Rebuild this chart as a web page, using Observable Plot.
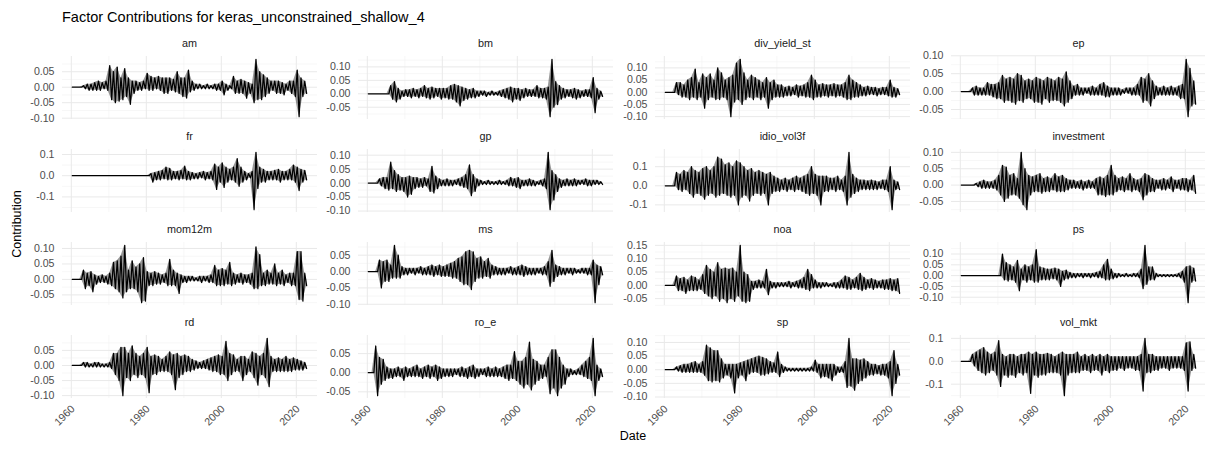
<!DOCTYPE html>
<html><head><meta charset="utf-8">
<script src="https://cdn.jsdelivr.net/npm/d3@7"></script>
<script src="https://cdn.jsdelivr.net/npm/@observablehq/plot@0.6"></script>
<style>
body{margin:0;background:#fff;}
#chart{position:relative;width:1205px;height:450px;font-family:"Liberation Sans",Arial,sans-serif;overflow:hidden;background:#fff;}
.panel{position:absolute;}
.panel svg{overflow:visible;display:block;}
#overlay{position:absolute;left:0;top:0;pointer-events:none;}
</style></head><body><div id="chart"></div>
<script>
// ---- Data (yearly upper / lower extremes), years 1960..2022 ----
const years = d3.range(1960, 2023);
const xTicks = [1960, 1980, 2000, 2020];
const xMinorTicks = [1970, 1990, 2010];
const factorNames = ["am","bm","div_yield_st","ep","fr","gp","idio_vol3f","investment","mom12m","ms","noa","ps","rd","ro_e","sp","vol_mkt"];

const am_hi = [0,0,0,.005,.01,.01,.015,.02,.015,.02,
 .07,.05,.065,.03,.06,.03,.02,.02,.015,.02,
 .045,.035,.03,.035,.03,.03,.03,.025,.05,.03,
 .03,.055,.02,.01,.01,.005,.01,.005,.01,.01,
 .02,.01,.005,.035,.02,.025,.02,.015,.01,.09,
 .05,.04,.03,.02,.02,.02,.015,.01,.02,.02,
 .055,.03,.02];
const am_lo = [0,0,0,-.005,-.01,-.01,-.01,-.01,-.005,-.01,
 -.04,-.05,-.045,-.04,-.03,-.055,-.02,-.01,-.01,-.005,
 -.01,-.01,-.005,-.01,-.02,-.02,-.01,-.015,-.02,-.03,
 -.035,-.015,-.01,-.005,-.005,-.005,-.005,-.005,-.01,-.01,
 -.025,-.01,-.005,-.02,-.02,-.02,-.035,-.02,-.05,-.04,
 -.04,-.03,-.02,-.01,-.02,-.02,-.025,-.01,-.02,-.03,
 -.095,-.03,-.02];
const bm_hi = [0,0,0,0,0,0,.03,.045,.02,.01,
 .015,.015,.02,.015,.02,.03,.02,.025,.02,.02,
 .02,.02,.03,.035,.03,.025,.02,.015,.02,.01,
 .01,.01,.005,.01,.005,.01,.015,.02,.025,.02,
 .02,.015,.02,.015,.015,.03,.02,.02,.025,.128,
 .045,.03,.02,.015,.015,.02,.015,.01,.015,.015,
 .06,.02,.01];
const bm_lo = [0,0,0,0,0,0,-.02,-.03,-.02,-.01,
 -.01,-.015,-.01,-.015,-.01,-.015,-.02,-.015,-.01,-.02,
 -.015,-.02,-.02,-.03,-.045,-.025,-.02,-.015,-.015,-.01,
 -.005,-.01,-.005,-.005,-.005,-.01,-.015,-.02,-.03,-.02,
 -.025,-.015,-.01,-.01,-.01,-.015,-.015,-.02,-.085,-.05,
 -.04,-.02,-.015,-.01,-.015,-.02,-.015,-.01,-.01,-.015,
 -.07,-.02,-.01];
const div_yield_st_hi = [0,0,0,.04,.04,.03,.05,.06,.095,.04,
 .075,.06,.075,.05,.1,.08,.05,.06,.07,.12,
 .135,.08,.05,.07,.06,.05,.04,.06,.04,.05,
 .03,.03,.02,.025,.02,.03,.025,.03,.04,.07,
 .05,.03,.035,.03,.03,.035,.03,.03,.04,.07,
 .05,.04,.03,.02,.025,.02,.02,.015,.02,.02,
 .05,.02,.015];
const div_yield_st_lo = [0,0,0,-.01,-.02,-.02,-.03,-.02,-.03,-.02,
 -.065,-.03,-.02,-.03,-.03,-.02,-.03,-.1,-.04,-.03,
 -.05,-.03,-.02,-.03,-.02,-.03,-.02,-.065,-.03,-.02,
 -.02,-.02,-.015,-.015,-.01,-.02,-.015,-.02,-.02,-.03,
 -.02,-.02,-.015,-.02,-.015,-.02,-.015,-.02,-.03,-.03,
 -.02,-.02,-.015,-.015,-.01,-.01,-.015,-.01,-.01,-.015,
 -.02,-.02,-.01];
const ep_hi = [0,0,0,.01,.015,.01,.01,.025,.02,.02,
 .025,.045,.035,.04,.035,.05,.045,.03,.035,.03,
 .04,.035,.03,.04,.035,.03,.04,.035,.055,.03,
 .015,.02,.01,.01,.01,.015,.01,.02,.025,.015,
 .01,.01,.01,.005,.01,.01,.01,.02,.04,.035,
 .05,.03,.015,.01,.015,.01,.015,.01,.015,.02,
 .09,.065,.03];
const ep_lo = [0,0,0,-.01,-.01,-.01,-.01,-.01,-.015,-.02,
 -.02,-.03,-.025,-.03,-.035,-.025,-.03,-.02,-.02,-.03,
 -.03,-.035,-.02,-.03,-.025,-.025,-.03,-.04,-.03,-.02,
 -.01,-.01,-.01,-.005,-.01,-.01,-.01,-.01,-.015,-.015,
 -.01,-.01,-.01,-.005,-.005,-.01,-.01,-.01,-.03,-.025,
 -.04,-.02,-.01,-.01,-.01,-.01,-.01,-.01,-.02,-.02,
 -.07,-.04,-.035];
const fr_hi = [0,0,0,0,0,0,0,0,0,0,
 0,0,0,0,0,0,0,0,0,0,
 0,.01,.015,.02,.025,.04,.035,.02,.02,.025,
 .045,.02,.015,.01,.015,.02,.015,.02,.055,.04,
 .06,.04,.03,.04,.08,.04,.02,.01,.02,.11,
 .04,.03,.02,.02,.025,.03,.02,.02,.03,.05,
 .04,.03,.025];
const fr_lo = [0,0,0,0,0,0,0,0,0,0,
 0,0,0,0,0,0,0,0,0,0,
 0,-.03,-.02,-.02,-.015,-.02,-.02,-.015,-.02,-.015,
 -.02,-.02,-.015,-.015,-.01,-.02,-.015,-.02,-.065,-.03,
 -.055,-.03,-.02,-.03,-.05,-.03,-.02,-.01,-.16,-.06,
 -.03,-.03,-.02,-.02,-.02,-.03,-.02,-.02,-.02,-.03,
 -.07,-.03,-.02];
const gp_hi = [0,0,0,.015,.02,.02,.075,.045,.03,.02,
 .02,.025,.02,.02,.015,.02,.015,.06,.025,.015,
 .01,.015,.01,.01,.015,.02,.03,.065,.03,.015,
 .01,.005,.01,.005,.005,.01,.005,.01,.02,.015,
 .02,.01,.01,.015,.01,.005,.01,.015,.11,.045,
 .03,.015,.01,.015,.01,.015,.01,.01,.015,.01,
 .01,.01,.005];
const gp_lo = [0,0,0,-.01,-.02,-.025,-.02,-.03,-.025,-.03,
 -.05,-.04,-.02,-.015,-.015,-.01,-.03,-.035,-.02,-.01,
 -.01,-.01,-.01,-.005,-.01,-.015,-.02,-.045,-.03,-.01,
 -.005,-.005,-.005,-.005,-.005,-.005,-.005,-.01,-.01,-.015,
 -.02,-.01,-.01,-.01,-.01,-.005,-.01,-.02,-.095,-.06,
 -.03,-.015,-.01,-.01,-.01,-.01,-.005,-.005,-.01,-.01,
 -.005,-.005,-.005];
const idio_vol3f_hi = [0,0,0,.07,.06,.08,.07,.1,.08,.07,
 .09,.1,.08,.1,.15,.14,.11,.12,.1,.13,
 .12,.1,.08,.09,.07,.08,.07,.06,.07,.05,
 .04,.03,.04,.03,.04,.05,.04,.05,.06,.1,
 .06,.05,.05,.05,.04,.04,.05,.03,.05,.175,
 .06,.04,.03,.03,.025,.03,.025,.02,.03,.03,
 .1,.03,.02];
const idio_vol3f_lo = [0,0,0,-.02,-.03,-.02,-.04,-.06,-.04,-.05,
 -.07,-.05,-.04,-.06,-.05,-.04,-.05,-.06,-.05,-.1,
 -.06,-.05,-.08,-.05,-.04,-.05,-.04,-.1,-.04,-.03,
 -.03,-.02,-.03,-.02,-.03,-.02,-.03,-.04,-.05,-.04,
 -.05,-.1,-.03,-.03,-.02,-.03,-.02,-.03,-.1,-.06,
 -.04,-.03,-.02,-.02,-.02,-.02,-.02,-.015,-.02,-.03,
 -.125,-.02,-.02];
const investment_hi = [0,0,0,0,.005,.01,.015,.01,.01,.015,
 .03,.06,.055,.03,.035,.02,.1,.05,.03,.025,
 .03,.035,.02,.025,.02,.035,.025,.03,.02,.015,
 .015,.01,.015,.01,.015,.01,.02,.025,.02,.03,
 .06,.03,.02,.025,.02,.035,.02,.015,.02,.035,
 .03,.02,.015,.015,.02,.015,.025,.015,.015,.02,
 .02,.015,.03];
const investment_lo = [0,0,0,0,-.005,-.01,-.01,-.01,-.01,-.015,
 -.03,-.05,-.04,-.03,-.03,-.04,-.06,-.075,-.03,-.02,
 -.02,-.025,-.02,-.02,-.015,-.02,-.02,-.02,-.015,-.01,
 -.01,-.01,-.015,-.01,-.01,-.01,-.03,-.03,-.035,-.03,
 -.03,-.02,-.015,-.02,-.015,-.02,-.015,-.02,-.045,-.03,
 -.02,-.02,-.01,-.015,-.015,-.01,-.02,-.01,-.015,-.015,
 -.02,-.015,-.025];
const mom12m_hi = [0,0,0,.03,.02,.025,.015,.01,.015,.01,
 .02,.055,.06,.075,.11,.03,.06,.04,.05,.07,
 .025,.02,.025,.02,.015,.02,.065,.03,.02,.015,
 .01,.01,.01,.005,.01,.01,.01,.015,.045,.03,
 .035,.03,.055,.02,.015,.02,.015,.015,.02,.105,
 .08,.02,.03,.02,.05,.02,.03,.015,.02,.02,
 .09,.09,.02];
const mom12m_lo = [0,0,0,-.03,-.02,-.04,-.015,-.01,-.01,-.015,
 -.02,-.03,-.04,-.06,-.04,-.03,-.03,-.04,-.075,-.07,
 -.02,-.02,-.015,-.015,-.01,-.02,-.02,-.02,-.045,-.01,
 -.01,-.005,-.005,-.005,-.01,-.005,-.01,-.01,-.02,-.02,
 -.02,-.015,-.02,-.015,-.01,-.015,-.01,-.015,-.03,-.03,
 -.02,-.02,-.015,-.015,-.02,-.015,-.02,-.01,-.02,-.02,
 -.065,-.07,-.02];
const ms_hi = [0,0,0,.035,.03,.035,.02,.08,.05,.015,
 .01,.01,.01,.01,.015,.01,.015,.02,.015,.02,
 .015,.02,.025,.03,.04,.045,.06,.065,.06,.04,
 .045,.03,.04,.02,.015,.01,.01,.01,.015,.01,
 .015,.02,.015,.01,.01,.01,.01,.015,.03,.065,
 .02,.015,.01,.01,.01,.01,.005,.01,.01,.01,
 .035,.02,.015];
const ms_lo = [0,0,0,-.05,-.03,-.03,-.02,-.02,-.02,-.01,
 -.01,-.005,-.01,-.005,-.01,-.01,-.01,-.015,-.01,-.015,
 -.015,-.015,-.02,-.02,-.03,-.04,-.04,-.055,-.03,-.02,
 -.02,-.015,-.02,-.01,-.01,-.01,-.01,-.005,-.01,-.01,
 -.01,-.015,-.01,-.01,-.01,-.005,-.01,-.01,-.045,-.03,
 -.015,-.01,-.01,-.005,-.01,-.005,-.005,-.005,-.01,-.01,
 -.095,-.04,-.01];
const noa_hi = [0,0,0,.035,.025,.03,.02,.035,.03,.02,
 .04,.075,.06,.05,.085,.06,.065,.06,.065,.05,
 .15,.05,.04,.015,.015,.02,.015,.06,.015,.01,
 .01,.01,.01,.015,.01,.015,.02,.03,.06,.04,
 .02,.01,.01,.01,.005,.01,.01,.02,.035,.03,
 .02,.03,.045,.03,.02,.025,.02,.015,.02,.02,
 .025,.02,.025];
const noa_lo = [0,0,0,-.02,-.02,-.03,-.02,-.02,-.02,-.015,
 -.03,-.04,-.05,-.04,-.06,-.05,-.065,-.05,-.06,-.04,
 -.06,-.065,-.06,-.015,-.01,-.01,-.01,-.035,-.01,-.01,
 -.005,-.005,-.005,-.01,-.005,-.01,-.01,-.015,-.02,-.01,
 -.01,-.01,-.005,-.005,-.005,-.01,-.01,-.01,-.015,-.015,
 -.01,-.015,-.02,-.015,-.01,-.015,-.01,-.01,-.015,-.015,
 -.02,-.02,-.03];
const ps_hi = [0,0,0,0,0,0,0,0,0,0,
 0,.1,.06,.05,.04,.07,.03,.05,.04,.05,
 .12,.04,.035,.03,.03,.035,.03,.02,.025,.015,
 .01,.01,.01,.01,.01,.01,.015,.02,.05,.075,
 .03,.01,.01,.005,.01,.005,.01,.01,.03,.14,
 .04,.04,.01,.005,.005,.005,.005,.005,.01,.02,
 .04,.045,.035];
const ps_lo = [0,0,0,0,0,0,0,0,0,0,
 0,-.02,-.025,-.02,-.03,-.07,-.02,-.03,-.02,-.03,
 -.03,-.02,-.02,-.02,-.015,-.02,-.05,-.02,-.015,-.01,
 -.01,-.005,-.01,-.005,-.01,-.005,-.01,-.01,-.02,-.02,
 -.015,-.01,-.005,-.005,-.005,-.005,-.005,-.01,-.06,-.04,
 -.02,-.02,-.005,-.005,-.005,-.005,-.005,-.005,-.01,-.03,
 -.125,-.03,-.025];
const rd_hi = [0,0,0,.01,.01,.005,.01,.01,.005,.005,
 .01,.04,.04,.06,.06,.04,.065,.04,.03,.04,
 .06,.03,.035,.03,.02,.03,.045,.035,.04,.03,
 .035,.03,.02,.015,.01,.015,.02,.025,.03,.035,
 .03,.08,.04,.035,.02,.03,.03,.02,.045,.04,
 .03,.04,.09,.03,.02,.025,.02,.03,.02,.025,
 .02,.015,.01];
const rd_lo = [0,0,0,-.005,-.005,-.005,-.005,-.005,-.005,-.005,
 -.01,-.03,-.05,-.1,-.04,-.05,-.03,-.04,-.03,-.04,
 -.09,-.03,-.03,-.02,-.02,-.02,-.03,-.08,-.04,-.03,
 -.02,-.02,-.015,-.01,-.01,-.01,-.015,-.02,-.02,-.03,
 -.03,-.05,-.03,-.02,-.02,-.05,-.03,-.02,-.04,-.065,
 -.03,-.04,-.07,-.02,-.02,-.02,-.02,-.02,-.02,-.015,
 -.015,-.015,-.01];
const ro_e_hi = [0,0,.07,.04,.035,.015,.01,.01,.015,.01,
 .015,.01,.015,.02,.01,.015,.02,.015,.02,.015,
 .01,.01,.01,.01,.01,.015,.01,.015,.02,.01,
 .01,.01,.015,.01,.015,.01,.015,.02,.02,.055,
 .03,.03,.04,.08,.035,.03,.02,.02,.04,.06,
 .06,.04,.02,.01,.01,.005,.01,.02,.03,.04,
 .09,.02,.01];
const ro_e_lo = [0,0,-.06,-.03,-.02,-.015,-.015,-.01,-.01,-.02,
 -.01,-.01,-.01,-.01,-.015,-.01,-.015,-.01,-.02,-.015,
 -.01,-.01,-.01,-.005,-.01,-.01,-.015,-.01,-.015,-.01,
 -.005,-.01,-.01,-.01,-.01,-.01,-.015,-.02,-.015,-.02,
 -.03,-.04,-.03,-.045,-.03,-.02,-.015,-.01,-.055,-.04,
 -.06,-.04,-.03,-.01,-.005,-.005,-.005,-.01,-.015,-.02,
 -.06,-.02,-.01];
const sp_hi = [0,0,0,.01,.015,.02,.02,.025,.03,.02,
 .03,.09,.08,.07,.07,.04,.02,.02,.02,.02,
 .025,.03,.035,.04,.045,.05,.045,.04,.03,.025,
 .065,.02,.01,.005,.005,.005,.005,.005,.005,.01,
 .035,.02,.02,.02,.02,.02,.01,.01,.03,.115,
 .04,.04,.035,.04,.03,.02,.02,.015,.02,.02,
 .03,.07,.02];
const sp_lo = [0,0,0,-.005,-.01,-.01,-.01,-.01,-.01,-.01,
 -.02,-.04,-.045,-.04,-.045,-.03,-.02,-.03,-.085,-.03,
 -.02,-.04,-.015,-.01,-.01,-.02,-.02,-.015,-.01,-.01,
 -.025,-.01,-.005,-.005,-.005,-.005,-.005,-.005,-.005,-.005,
 -.01,-.03,-.025,-.03,-.04,-.02,-.01,-.01,-.065,-.06,
 -.075,-.05,-.04,-.03,-.02,-.02,-.015,-.02,-.02,-.03,
 -.095,-.05,-.02];
const vol_mkt_hi = [0,0,0,.03,.04,.05,.06,.04,.03,.04,
 .09,.03,.02,.03,.03,.02,.03,.03,.04,.03,
 .04,.03,.03,.035,.03,.02,.03,.04,.03,.03,
 .03,.04,.02,.03,.02,.03,.02,.03,.02,.03,
 .02,.02,.02,.02,.02,.02,.02,.02,.03,.1,
 .03,.03,.02,.02,.02,.02,.02,.02,.02,.02,
 .08,.085,.03];
const vol_mkt_lo = [0,0,0,-.02,-.04,-.05,-.06,-.05,-.04,-.06,
 -.11,-.06,-.07,-.06,-.07,-.05,-.06,-.05,-.14,-.06,
 -.07,-.06,-.06,-.05,-.05,-.05,-.06,-.15,-.06,-.05,
 -.05,-.05,-.04,-.04,-.05,-.04,-.04,-.06,-.04,-.05,
 -.04,-.04,-.03,-.04,-.03,-.03,-.04,-.04,-.13,-.05,
 -.05,-.04,-.04,-.03,-.03,-.04,-.03,-.03,-.03,-.04,
 -.13,-.04,-.03];

// y-axis tick labels per facet
const ticks_am = [-0.10, -0.05, 0, 0.05];
const ticks_bm = [-0.05, 0, 0.05, 0.10];
const ticks_div_yield_st = [-0.10, -0.05, 0, 0.05, 0.10];
const ticks_ep = [-0.05, 0, 0.05, 0.10];
const ticks_fr = [-0.1, 0, 0.1];
const ticks_gp = [-0.10, -0.05, 0, 0.05, 0.10];
const ticks_idio_vol3f = [-0.1, 0, 0.1];
const ticks_investment = [-0.05, 0, 0.05, 0.10];
const ticks_mom12m = [-0.05, 0, 0.05, 0.10];
const ticks_ms = [-0.10, -0.05, 0, 0.05];
const ticks_noa = [-0.05, 0, 0.05, 0.10, 0.15];
const ticks_ps = [-0.10, -0.05, 0, 0.05, 0.10];
const ticks_rd = [-0.10, -0.05, 0, 0.05];
const ticks_ro_e = [-0.05, 0, 0.05];
const ticks_sp = [-0.10, -0.05, 0, 0.05, 0.10];
const ticks_vol_mkt = [-0.1, 0, 0.1];
const oneDecimal = ["fr", "idio_vol3f", "vol_mkt"];

const hiArrays = [am_hi,bm_hi,div_yield_st_hi,ep_hi,fr_hi,gp_hi,idio_vol3f_hi,investment_hi,mom12m_hi,ms_hi,noa_hi,ps_hi,rd_hi,ro_e_hi,sp_hi,vol_mkt_hi];
const loArrays = [am_lo,bm_lo,div_yield_st_lo,ep_lo,fr_lo,gp_lo,idio_vol3f_lo,investment_lo,mom12m_lo,ms_lo,noa_lo,ps_lo,rd_lo,ro_e_lo,sp_lo,vol_mkt_lo];
const tickArrays = [ticks_am,ticks_bm,ticks_div_yield_st,ticks_ep,ticks_fr,ticks_gp,ticks_idio_vol3f,ticks_investment,ticks_mom12m,ticks_ms,ticks_noa,ticks_ps,ticks_rd,ticks_ro_e,ticks_sp,ticks_vol_mkt];

// ---- Layout ----
const chart = document.getElementById("chart");
const panelW = 255, panelH = 63, ML = 40;
const colLeft = [62, 358, 655, 951];
const rowTop = [56, 149, 242, 335];
const xDomain = [1957.65, 2025.65];
const FONT = "'Liberation Sans', Arial, Helvetica, sans-serif";
const TICK_FS = 10.6;

factorNames.forEach((name, k) => {
  const col = k % 4, row = Math.floor(k / 4);
  const isBottom = row === 3;
  const MB = isBottom ? 45 : 0;
  const hi = hiArrays[k], lo = loArrays[k], ticks = tickArrays[k];
  const digits = oneDecimal.includes(name) ? 1 : 2;
  const highs = years.map((y, i) => ({x: y + 0.25, v: hi[i]}));
  const lows = years.map((y, i) => ({x: y + 0.75, v: lo[i]}));
  const series = years.flatMap((y, i) => [highs[i], lows[i]]);
  const vmin = d3.min(lo), vmax = d3.max(hi), pad = (vmax - vmin) * 0.05;
  const yDomain = [vmin - pad, vmax + pad];
  const step = ticks[1] - ticks[0];
  const yMinor = [ticks[0] - step / 2, ...ticks.map(t => t + step / 2)]
    .filter(v => v > yDomain[0] && v < yDomain[1]);
  const fmt = v => (Math.abs(v) < 1e-9 ? 0 : v).toFixed(digits);

  const marks = [
    Plot.ruleX(xMinorTicks, {x: d => d, stroke: "#f2f2f2", strokeWidth: 0.6}),
    Plot.ruleY(yMinor, {y: d => d, stroke: "#f2f2f2", strokeWidth: 0.6}),
    Plot.ruleX(xTicks, {x: d => d, stroke: "#e9e9e9", strokeWidth: 1}),
    Plot.ruleY(ticks, {y: d => d, stroke: "#e9e9e9", strokeWidth: 1}),
    Plot.areaY(highs, {x: "x", y: "v", fill: "#000", fillOpacity: 0.4}),
    Plot.areaY(lows, {x: "x", y: "v", fill: "#000", fillOpacity: 0.4}),
    Plot.line(series, {x: "x", y: "v", stroke: "#000", strokeWidth: 1.25}),
    Plot.text(ticks, {y: d => d, text: d => fmt(d), frameAnchor: "left", textAnchor: "end", dx: -8, fontSize: TICK_FS, fill: "#4d4d4d"})
  ];
  if (isBottom) {
    marks.push(Plot.text(xTicks, {x: d => d, text: d => String(d), frameAnchor: "bottom", rotate: -45, textAnchor: "end", dx: 4, dy: 11, fontSize: TICK_FS, fill: "#4d4d4d"}));
  }
  const svg = Plot.plot({
    width: panelW + ML, height: panelH + MB,
    marginLeft: ML, marginRight: 0, marginTop: 0, marginBottom: MB,
    style: {fontFamily: FONT, background: "transparent", overflow: "visible"},
    x: {domain: xDomain, axis: null},
    y: {domain: yDomain, axis: null},
    marks
  });
  const div = document.createElement("div");
  div.className = "panel";
  div.style.left = (colLeft[col] - ML) + "px";
  div.style.top = rowTop[row] + "px";
  div.style.width = (panelW + ML) + "px";
  div.appendChild(svg);
  chart.appendChild(div);
});

// ---- Titles, strip labels, axis titles ----
const ov = d3.select(chart).append("svg").attr("id", "overlay")
  .attr("width", 1205).attr("height", 450).style("font-family", FONT);
ov.append("text").attr("x", 62).attr("y", 21.7).attr("font-size", 14.5).attr("fill", "#000")
  .text("Factor Contributions for keras_unconstrained_shallow_4");
factorNames.forEach((name, k) => {
  const col = k % 4, row = Math.floor(k / 4);
  ov.append("text").attr("x", colLeft[col] + panelW / 2).attr("y", rowTop[row] - 8.7)
    .attr("text-anchor", "middle").attr("font-size", 10.8).attr("fill", "#1a1a1a").text(name);
});
ov.append("text").attr("transform", "translate(21,224) rotate(-90)").attr("text-anchor", "middle")
  .attr("font-size", 12.5).attr("fill", "#000").text("Contribution");
ov.append("text").attr("x", 633).attr("y", 440).attr("text-anchor", "middle")
  .attr("font-size", 12.5).attr("fill", "#000").text("Date");
</script></body></html>
